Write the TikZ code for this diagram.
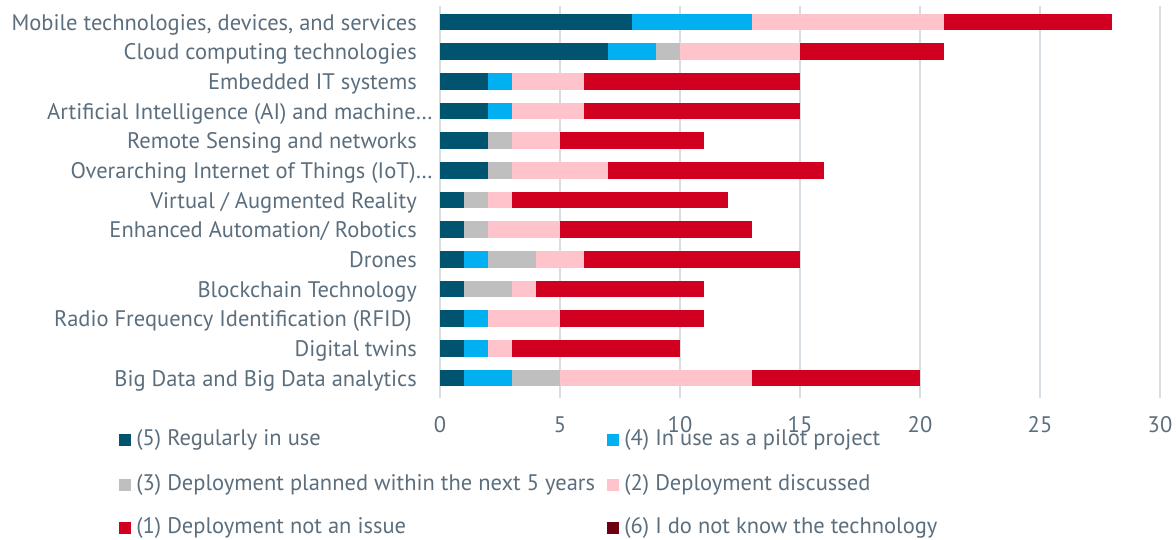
\documentclass[tikz,border=0pt]{standalone}
\usepackage{fontspec}
\setmainfont{PT Sans}
\usetikzlibrary{positioning}

\definecolor{txtgrey}{HTML}{5B6E7D}
\definecolor{gridgrey}{HTML}{D6DEE4}
\definecolor{regular}{HTML}{00546F}
\definecolor{pilot}{HTML}{00B0F0}
\definecolor{planned}{HTML}{BFBFBF}
\definecolor{discussed}{HTML}{FFC3CC}
\definecolor{noissue}{HTML}{D20020}
\definecolor{unknown}{HTML}{6B0012}

\begin{document}
\begin{tikzpicture}[x=1pt,y=-1pt,
    font=\fontsize{22.5}{26}\selectfont, text=txtgrey,
    gridline/.style={gridgrey, line width=1.2pt},
    catlabel/.style={anchor=base east, inner sep=0pt},
    ticklabel/.style={inner sep=0pt},
    legsq/.style={minimum size=12pt, inner sep=0pt},
    legtxt/.style={inner sep=0pt, right=5pt of #1}]
    \useasboundingbox (0,0) rectangle (1176,539);

    % grid and value axis
    \foreach \v in {0,5,...,30} {
        \draw[gridline] (440+24*\v,6) -- (440+24*\v,398);
        \node[ticklabel] (tick\v) at (440+24*\v,425) {\v}; % tick label
    }

    % one stacked bar per technology: label / right end of label / (5) / (4) / (3) / (2) / (1)
    \foreach \lbl/\rx/\a/\b/\c/\d/\e [count=\i] in {
        {Mobile technologies, devices, and services}/417/8/5/0/8/7,
        {Cloud computing technologies}/417/7/2/1/5/6,
        {Embedded IT systems}/417/2/1/0/3/9,
        {Artificial Intelligence (AI) and machine…}/433/2/1/0/3/9,
        {Remote Sensing and networks}/417/2/0/1/2/6,
        {Overarching Internet of Things (IoT)…}/433/2/0/1/4/9,
        {Virtual / Augmented Reality}/417/1/0/1/1/9,
        {Enhanced Automation/ Robotics}/417/1/0/1/3/8,
        {Drones}/417/1/1/2/2/9,
        {Blockchain Technology}/417/1/0/2/1/7,
        {Radio Frequency Identification (RFID)}/412/1/1/0/3/6,
        {Digital twins}/417/1/1/0/1/7,
        {Big Data and Big Data analytics}/417/1/2/2/8/7} {
        \pgfmathsetmacro\yc{22+29.67*(\i-1)}
        \pgfmathsetmacro\xa{440+24*\a}
        \pgfmathsetmacro\xb{\xa+24*\b}
        \pgfmathsetmacro\xc{\xb+24*\c}
        \pgfmathsetmacro\xd{\xc+24*\d}
        \pgfmathsetmacro\xe{\xd+24*\e}
        \fill[regular] (440,\yc-8.4) rectangle (\xa,\yc+8.4);
        \fill[pilot] (\xa,\yc-8.4) rectangle (\xb,\yc+8.4);
        \fill[planned] (\xb,\yc-8.4) rectangle (\xc,\yc+8.4);
        \fill[discussed] (\xc,\yc-8.4) rectangle (\xd,\yc+8.4);
        \fill[noissue] (\xd,\yc-8.4) rectangle (\xe,\yc+8.4);
        \node[catlabel] (cat\i) at (\rx,\yc+8) {\lbl}; % category name
    }

    % legend
    \node[legsq, fill=regular] (sq5) at (125,440) {};
    \node[legtxt=sq5] (lg5) {(5) Regularly in use};
    \node[legsq, fill=pilot] (sq4) at (613,440) {};
    \node[legtxt=sq4] (lg4) {(4) In use as a pilot project};
    \node[legsq, fill=planned] (sq3) at (125,485) {};
    \node[legtxt=sq3] (lg3) {(3) Deployment planned within the next 5 years};
    \node[legsq, fill=discussed] (sq2) at (613,485) {};
    \node[legtxt=sq2] (lg2) {(2) Deployment discussed};
    \node[legsq, fill=noissue] (sq1) at (125,528) {};
    \node[legtxt=sq1] (lg1) {(1) Deployment not an issue};
    \node[legsq, fill=unknown] (sq6) at (613,528) {};
    \node[legtxt=sq6] (lg6) {(6) I do not know the technology};
\end{tikzpicture}
\end{document}
